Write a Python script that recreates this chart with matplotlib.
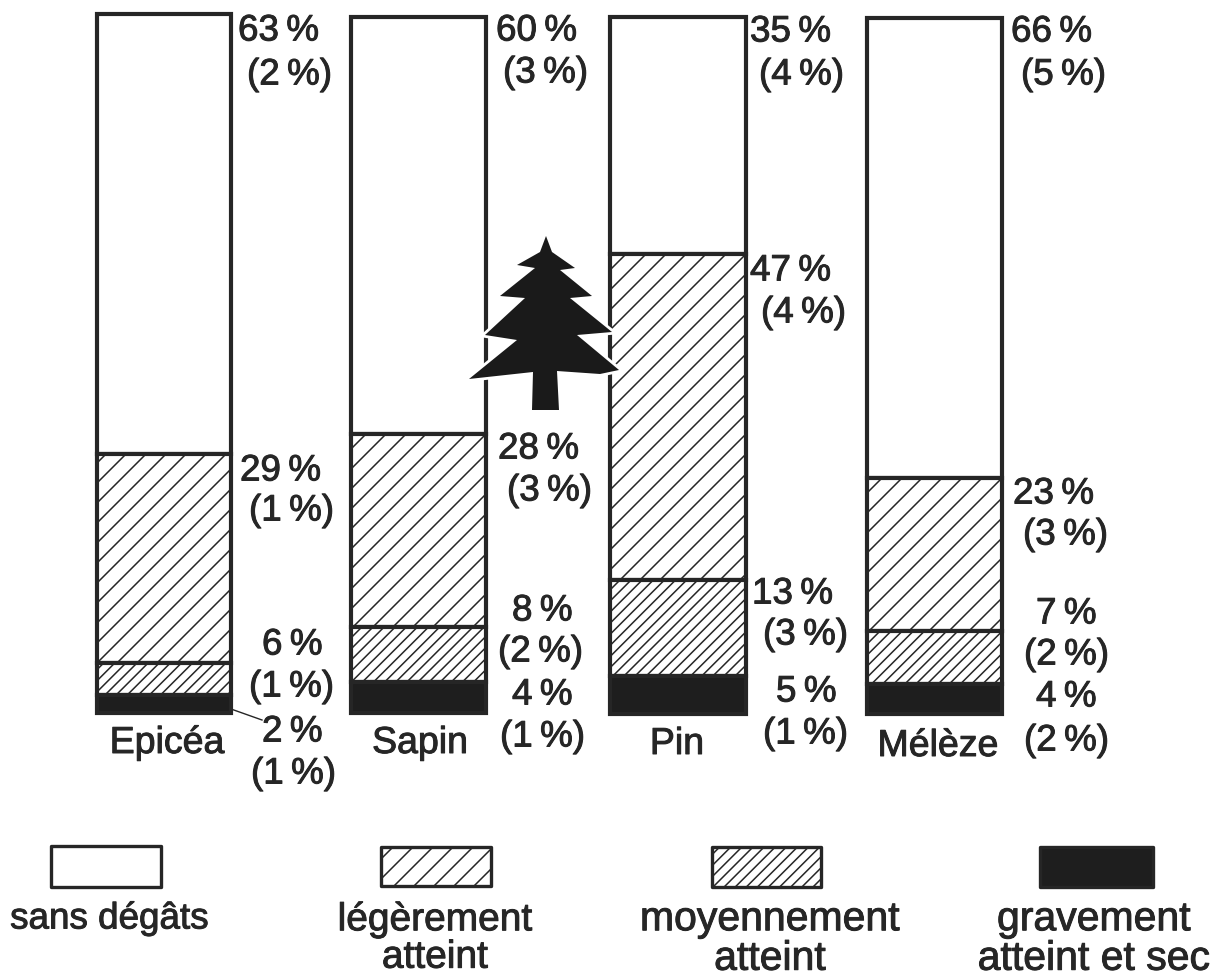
import matplotlib
matplotlib.use('Agg')
import matplotlib.pyplot as plt
import matplotlib.hatch as mhatch
import matplotlib.patheffects as pe
from matplotlib.patches import Rectangle, Polygon

plt.rcParams['font.family'] = ['Liberation Sans', 'DejaVu Sans']
plt.rcParams['hatch.linewidth'] = 1.1
plt.rcParams['hatch.color'] = '#262626'

# hatch spacing of the printed original: '/' about 20 px, '//' about 11 px
def _ne_init(self, hatch, density):
    n = hatch.count('/')
    self.num_lines = {0: 0, 1: 10, 2: 18}.get(n, n * 6)
    self.num_vertices = (self.num_lines + 1) * 2 if self.num_lines else 0
mhatch.NorthEastHatch.__init__ = _ne_init

species = ['Epicéa', 'Sapin', 'Pin', 'Mélèze']
# printed percentages
healthy = [63, 60, 35, 66]
light = [29, 28, 47, 23]
medium = [6, 8, 13, 7]
severe = [2, 4, 5, 4]
healthy_err = [2, 3, 4, 5]
light_err = [1, 3, 4, 3]
medium_err = [1, 2, 3, 2]
severe_err = [1, 1, 1, 2]
# segment shares as actually drawn in the picture (%)
drawn_healthy = [62.9, 59.9, 34.0, 66.1]
drawn_light = [29.9, 27.7, 46.8, 22.0]
drawn_medium = [4.6, 8.0, 13.8, 7.6]
drawn_severe = [2.6, 4.4, 5.4, 4.3]
legend_labels = ['sans dégâts', 'légèrement\natteint', 'moyennement\natteint', 'gravement\natteint et sec']
legend_sizes = [26.5, 28, 29.5, 29.5]

W, H = 1221, 976
fig = plt.figure(figsize=(W/100, H/100), dpi=100)
ax = fig.add_axes([0, 0, 1, 1])
ax.set_xlim(0, W)
ax.set_ylim(H, 0)
ax.axis('off')

geom = [(97, 231, 14, 713), (351, 486, 17, 713), (610, 746, 17, 714), (867, 1002, 18, 714)]
ink = '#262626'
styles = [dict(facecolor='white', hatch=None),
          dict(facecolor='white', hatch='/'),
          dict(facecolor='white', hatch='//'),
          dict(facecolor='#1e1e1e', hatch=None)]
series = [drawn_healthy, drawn_light, drawn_medium, drawn_severe]

for b, (l, r, t, bt) in enumerate(geom):
    total = sum(s[b] for s in series)
    y = t
    for s, st in zip(series, styles):
        h = (bt - t) * s[b] / total
        ax.add_patch(Rectangle((l, y), r - l, h, edgecolor=ink, linewidth=3.0, **st))
        y += h

heavy = [pe.withStroke(linewidth=0.7, foreground='#262626')]
fs = 26.5
lab = dict(fontsize=fs, color='#262626', va='center', ha='left', path_effects=heavy)
printed = [healthy, light, medium, severe]
errors = [healthy_err, light_err, medium_err, severe_err]
pos = [[(238, 31), (240, 471), (262, 645), (262, 732)],
       [(496, 31), (498, 449), (512, 611), (512, 695)],
       [(750, 32), (750, 271), (752, 594), (776, 692)],
       [(1011, 32), (1013, 494), (1036, 614), (1036, 697)]]
errpos = [[(247, 75), (249, 511), (249, 687), (251, 774)],
          [(503, 73), (507, 491), (498, 652), (500, 737)],
          [(759, 75), (761, 313), (763, 635), (763, 734)],
          [(1021, 75), (1023, 535), (1024, 655), (1024, 741)]]
for b in range(4):
    for k, s in enumerate(printed):
        ax.text(pos[b][k][0], pos[b][k][1], f'{s[b]}\u2009%', **lab)
    for k, e in enumerate(errors):
        ax.text(errpos[b][k][0], errpos[b][k][1], f'({e[b]}\u2009%)', **lab)

ax.plot([231, 262], [709, 720], color=ink, lw=1)

name_xy = [(167, 743), (420, 743), (677, 744), (938, 746)]
for n, (x, y) in zip(species, name_xy):
    ax.text(x, y, n, fontsize=27, color='#262626', ha='center', va='center', path_effects=heavy)

tree = [(546,236),(552,252),(575,268),(560,270),(592,296),(570,298),(612,332),(577,335),(619,370),
        (600,374),(557,371),(559,410),(532,410),(533,372),(469,379),(517,340),(485,335),(525,298),
        (500,296),(535,268),(517,265),(540,252)]
ax.add_patch(Polygon(tree, closed=True, facecolor='#1a1a1a', edgecolor='white', linewidth=4, joinstyle='miter', zorder=5))
ax.add_patch(Polygon(tree, closed=True, facecolor='#1a1a1a', edgecolor='none', zorder=6))

leg_boxes = [(51, 846, 110, 41), (381, 847, 110, 39), (712, 847, 109, 40), (1040, 847, 113, 40)]
for (x, y, w, h), st in zip(leg_boxes, styles):
    ax.add_patch(Rectangle((x, y), w, h, edgecolor=ink, linewidth=2.4, joinstyle='round', **st))
leg_xy = [(109, 919), (435, 939), (770, 939), (1094, 939)]
for t, (x, y), sz in zip(legend_labels, leg_xy, legend_sizes):
    ax.text(x, y, t, fontsize=sz, color='#262626', ha='center', va='center', linespacing=1.05, path_effects=heavy)

fig.savefig('out.png', dpi=100)
